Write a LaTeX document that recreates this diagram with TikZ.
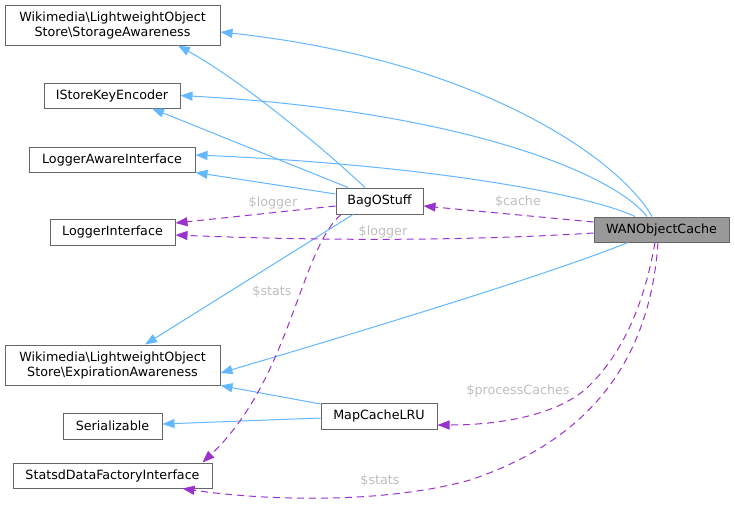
\documentclass[tikz,border=0pt]{standalone}
\usepackage{fontspec}
\setmainfont{DejaVu Sans}
\usepackage{xcolor}
\usetikzlibrary{arrows.meta}
\definecolor{inhblue}{HTML}{63B8FF}
\definecolor{usepurple}{HTML}{9A32CD}
\definecolor{lblgray}{HTML}{BFBFBF}
\definecolor{boxgray}{HTML}{666666}
\tikzset{
  cls/.style={draw=boxgray, fill=white, line width=1pt, inner sep=0pt, align=center,
    font=\fontsize{12.7}{15}\selectfont},
  inh/.style={inhblue, line width=1pt, -{Triangle[length=12pt,width=9pt]}},
  usage/.style={usepurple, line width=1pt, dash pattern=on 7pt off 5pt,
    -{Triangle[length=12pt,width=9pt]}},
  lbl/.style={lblgray, inner sep=0pt, font=\fontsize{12.7}{15}\selectfont}
}

\begin{document}
\begin{tikzpicture}[x=1pt, y=-1pt]
        \fill[white] (0,0) rectangle (735,507);
        \useasboundingbox (0,0) rectangle (735,507);
        \node[cls, minimum width=215pt, minimum height=40pt] (sa) at (112.5,25)
            {Wikimedia\textbackslash LightweightObject\\Store\textbackslash StorageAwareness};
        \node[cls, minimum width=136pt, minimum height=25pt] (ike) at (112,95.5) {IStoreKeyEncoder};
        \node[cls, minimum width=166pt, minimum height=25pt] (lai) at (112,159.5) {LoggerAwareInterface};
        \node[cls, minimum width=125pt, minimum height=26pt] (li) at (112.5,232) {LoggerInterface};
        \node[cls, minimum width=215pt, minimum height=40pt] (ea) at (112.5,365)
            {Wikimedia\textbackslash LightweightObject\\Store\textbackslash ExpirationAwareness};
        \node[cls, minimum width=99pt, minimum height=26pt] (ser) at (112.5,426) {Serializable};
        \node[cls, minimum width=199pt, minimum height=25pt] (sdf) at (112.5,475.5) {StatsdDataFactoryInterface};
        \node[cls, minimum width=87pt, minimum height=26pt] (bag) at (379.5,201) {BagOStuff};
        \node[cls, minimum width=116pt, minimum height=26pt] (mc) at (379,416) {MapCacheLRU};
        \node[cls, fill=black!40, minimum width=135pt, minimum height=25pt] (wan) at (661.5,229.5) {WANObjectCache};
        % inheritance
        \draw[inh] ([xshift=-9.5]wan.north) .. controls (620,160) and (480,60) .. ([yshift=-7]sa.east);
        \draw[inh] ([xshift=-14.5]wan.north) .. controls (610,170) and (450,110) .. (ike.east);
        \draw[inh] ([xshift=-26.5]wan.north) .. controls (590,195) and (430,165) .. ([yshift=4.5]lai.east);
        \draw[inh] ([xshift=-33.5]wan.south) .. controls (560,270) and (400,320) .. ([yshift=-8]ea.east);
        \draw[inh] ([xshift=-14.5]bag.north) .. controls (320,145) and (240,80) .. ([xshift=65.5]sa.south);
        \draw[inh] ([xshift=-31.5]bag.north) -- ([xshift=40]ike.south);
        \draw[inh] ([yshift=7]bag.west) -- (lai.south east);
        \draw[inh] ([xshift=-26.5]bag.south) -- ([xshift=32.5]ea.north);
        \draw[inh] ([yshift=12]mc.west) -- (ea.south east);
        \draw[inh] ([yshift=-2]mc.west) -- ([yshift=2]ser.east);
        % members
        \draw[usage] ([yshift=-5]bag.west) -- ([yshift=9]li.east);
        \draw[usage] ([yshift=-3.5]wan.west) .. controls (450,242) and (300,240) .. ([yshift=-3]li.east);
        \draw[usage] ([yshift=7.5]wan.west) -- ([yshift=-5]bag.east);
        \draw[usage] ([xshift=-38.5]bag.south) .. controls (300,250) and (290,380) .. ([xshift=90]sdf.north);
        \draw[usage] ([xshift=-6.5]wan.south) .. controls (645,300) and (625,350) .. (590,385)
            .. controls (560,415) and (500,425) .. ([yshift=-9]mc.east);
        \draw[usage] ([xshift=-3.5]wan.south) .. controls (650,360) and (590,440) .. (470,480)
            .. controls (380,505) and (260,500) .. ([xshift=70]sdf.south);
        \node[lbl] (lbllog1) at (273,203) {\$logger};
        \node[lbl] (lbllog2) at (383,232) {\$logger};
        \node[lbl] (lblcache) at (518,202) {\$cache};
        \node[lbl] (lblstats1) at (272,292) {\$stats};
        \node[lbl] (lblproc) at (518,391) {\$processCaches};
        \node[lbl] (lblstats2) at (380,481) {\$stats};
    \end{tikzpicture}
\end{document}
